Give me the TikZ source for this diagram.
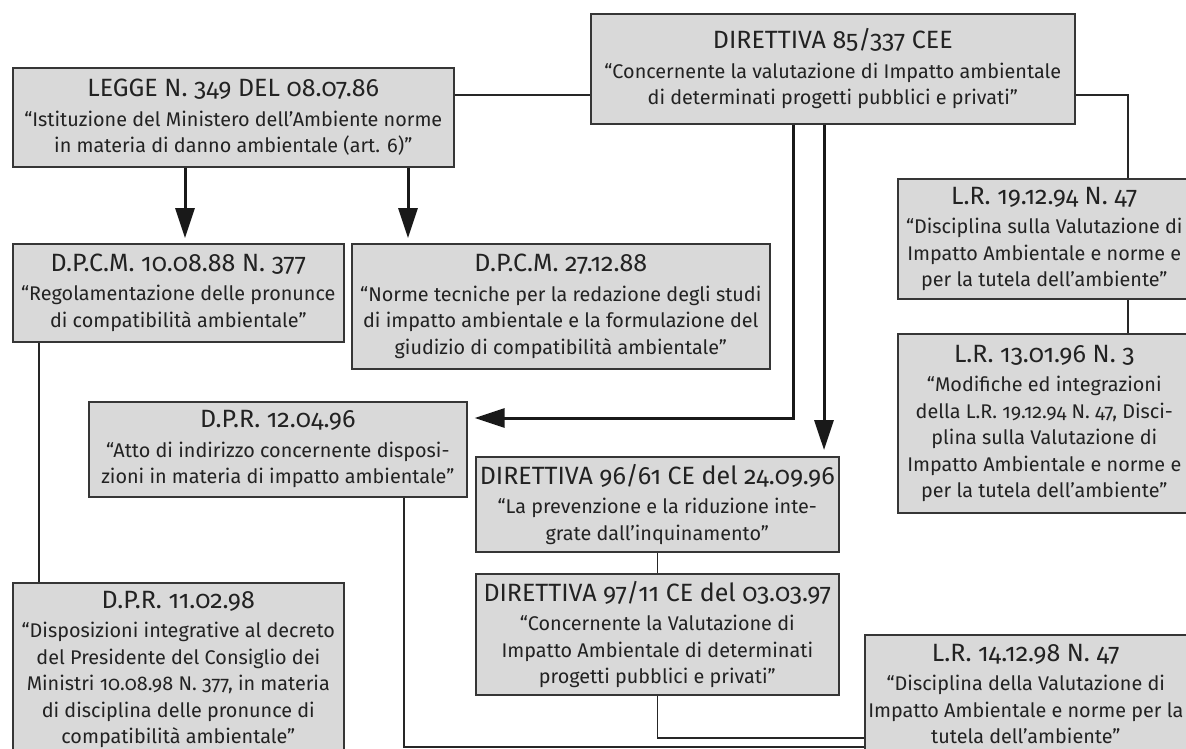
\documentclass[tikz,border=0pt]{standalone}
\usepackage{fontspec}
\setmainfont{Fira Sans}[Numbers=OldStyle]
\usetikzlibrary{arrows.meta}
\definecolor{boxfill}{HTML}{D9D9D9}
\definecolor{boxline}{HTML}{363636}
\definecolor{txtgray}{HTML}{222222}
\newcommand{\ttl}[1]{{\fontsize{25}{26.5}\selectfont #1}\\[3pt]}

\begin{document}
\begin{tikzpicture}[x=1pt, y=-1pt,
    docbox/.style={rectangle, draw=boxline, fill=boxfill, line width=1.6pt, inner sep=0pt,
        anchor=north west, align=center, text=txtgray, font=\fontsize{19.8}{26.5}\selectfont},
    conn/.style={draw=black!85, line width=1.5pt},
    arr/.style={draw=black!90, line width=3pt, -{Triangle[width=19pt, length=30pt]}}]
    \useasboundingbox (0,0) rectangle (1186,749);
    \clip (0,0) rectangle (1186,749);

    % Laws and decrees
    \node[docbox, minimum width=441pt, minimum height=99pt] (LEGGE) at (12,67) {\ttl{LEGGE N. 349 DEL 08.07.86}“Istituzione del Ministero dell’Ambiente norme\\in materia di danno ambientale (art. 6)”};
    \node[docbox, minimum width=484pt, minimum height=110pt] (DIR85) at (590,13) {\ttl{DIRETTIVA 85/337 CEE}“Concernente la valutazione di Impatto ambientale\\di determinati progetti pubblici e privati”};
    \node[docbox, minimum width=331pt, minimum height=98pt] (DPCM10) at (12,243) {\ttl{D.P.C.M. 10.08.88 N. 377}“Regolamentazione delle pronunce\\di compatibilità ambientale”};
    \node[docbox, minimum width=418pt, minimum height=125pt] (DPCM27) at (351,243) {\ttl{D.P.C.M. 27.12.88}“Norme tecniche per la redazione degli studi\\di impatto ambientale e la formulazione del\\giudizio di compatibilità ambientale”};
    \node[docbox, minimum width=378pt, minimum height=95pt] (DPR12) at (88,401) {\ttl{D.P.R. 12.04.96}“Atto di indirizzo concernente disposi-\\zioni in materia di impatto ambientale”};
    \node[docbox, minimum width=363pt, minimum height=95pt] (DIR96) at (475,456) {\ttl{DIRETTIVA 96/61 CE del 24.09.96}“La prevenzione e la riduzione inte-\\grate dall’inquinamento”};
    \node[docbox, minimum width=363pt, minimum height=121pt] (DIR97) at (475,573) {\ttl{DIRETTIVA 97/11 CE del 03.03.97}“Concernente la Valutazione di\\Impatto Ambientale di determinati\\progetti pubblici e privati”};
    \node[docbox, minimum width=331pt, minimum height=173pt] (DPR11) at (12,582) {\ttl{D.P.R. 11.02.98}“Disposizioni integrative al decreto\\del Presidente del Consiglio dei\\Ministri 10.08.98 N. 377, in materia\\di disciplina delle pronunce di\\compatibilità ambientale”};

    % Regional laws
    \node[docbox, minimum width=293pt, minimum height=120pt] (LR19) at (897,178) {\ttl{L.R. 19.12.94 N. 47}“Disciplina sulla Valutazione di\\Impatto Ambientale e norme e\\per la tutela dell’ambiente”};
    \node[docbox, minimum width=293pt, minimum height=179pt] (LR13) at (897,333) {\ttl{L.R. 13.01.96 N. 3}“Modifiche ed integrazioni\\della L.R. 19.12.94 N. 47, Disci-\\plina sulla Valutazione di\\Impatto Ambientale e norme e\\per la tutela dell’ambiente”};
    \node[docbox, minimum width=322pt, minimum height=118pt] (LR14) at (864,634) {\ttl{L.R. 14.12.98 N. 47}“Disciplina della Valutazione di\\Impatto Ambientale e norme per la\\tutela dell’ambiente”};

    % Bend points
    \coordinate (yTop) at (0,95);
    \coordinate (cRight) at (1128,95);
    \coordinate (aLeft) at (185,0);
    \coordinate (aRight) at (408,0);
    \coordinate (vLeft) at (793,418);
    \coordinate (vRight) at (824,0);
    \coordinate (vDown) at (39,0);
    \coordinate (hUp) at (0,738);
    \coordinate (hLow) at (404,747);

    % Connections
    \draw[conn] (LEGGE.east |- yTop) -- (DIR85.west |- yTop);
    \draw[conn] (DIR85.east |- cRight) -| (cRight |- LR19.north);
    \draw[conn] (cRight |- LR19.south) -- (cRight |- LR13.north);
    \draw[arr, shorten >=5pt] (aLeft |- LEGGE.south) -- (aLeft |- DPCM10.north);
    \draw[arr, shorten >=5pt] (aRight |- LEGGE.south) -- (aRight |- DPCM27.north);
    \draw[arr, shorten >=7pt] (vLeft |- DIR85.south) -- (vLeft) -- (DPR12.east |- vLeft);
    \draw[arr, shorten >=6pt] (vRight |- DIR85.south) -- (vRight |- DIR96.north);
    \draw[conn] (DIR96.south) -- (DIR97.north);
    \draw[conn] (DIR97.south) |- (LR14.west |- hUp);
    \draw[conn] (vDown |- DPCM10.south) -- (vDown |- DPR11.north);
    \draw[conn] (hLow |- DPR12.south) -- (hLow) -- (LR14.west |- hLow);
\end{tikzpicture}
\end{document}
